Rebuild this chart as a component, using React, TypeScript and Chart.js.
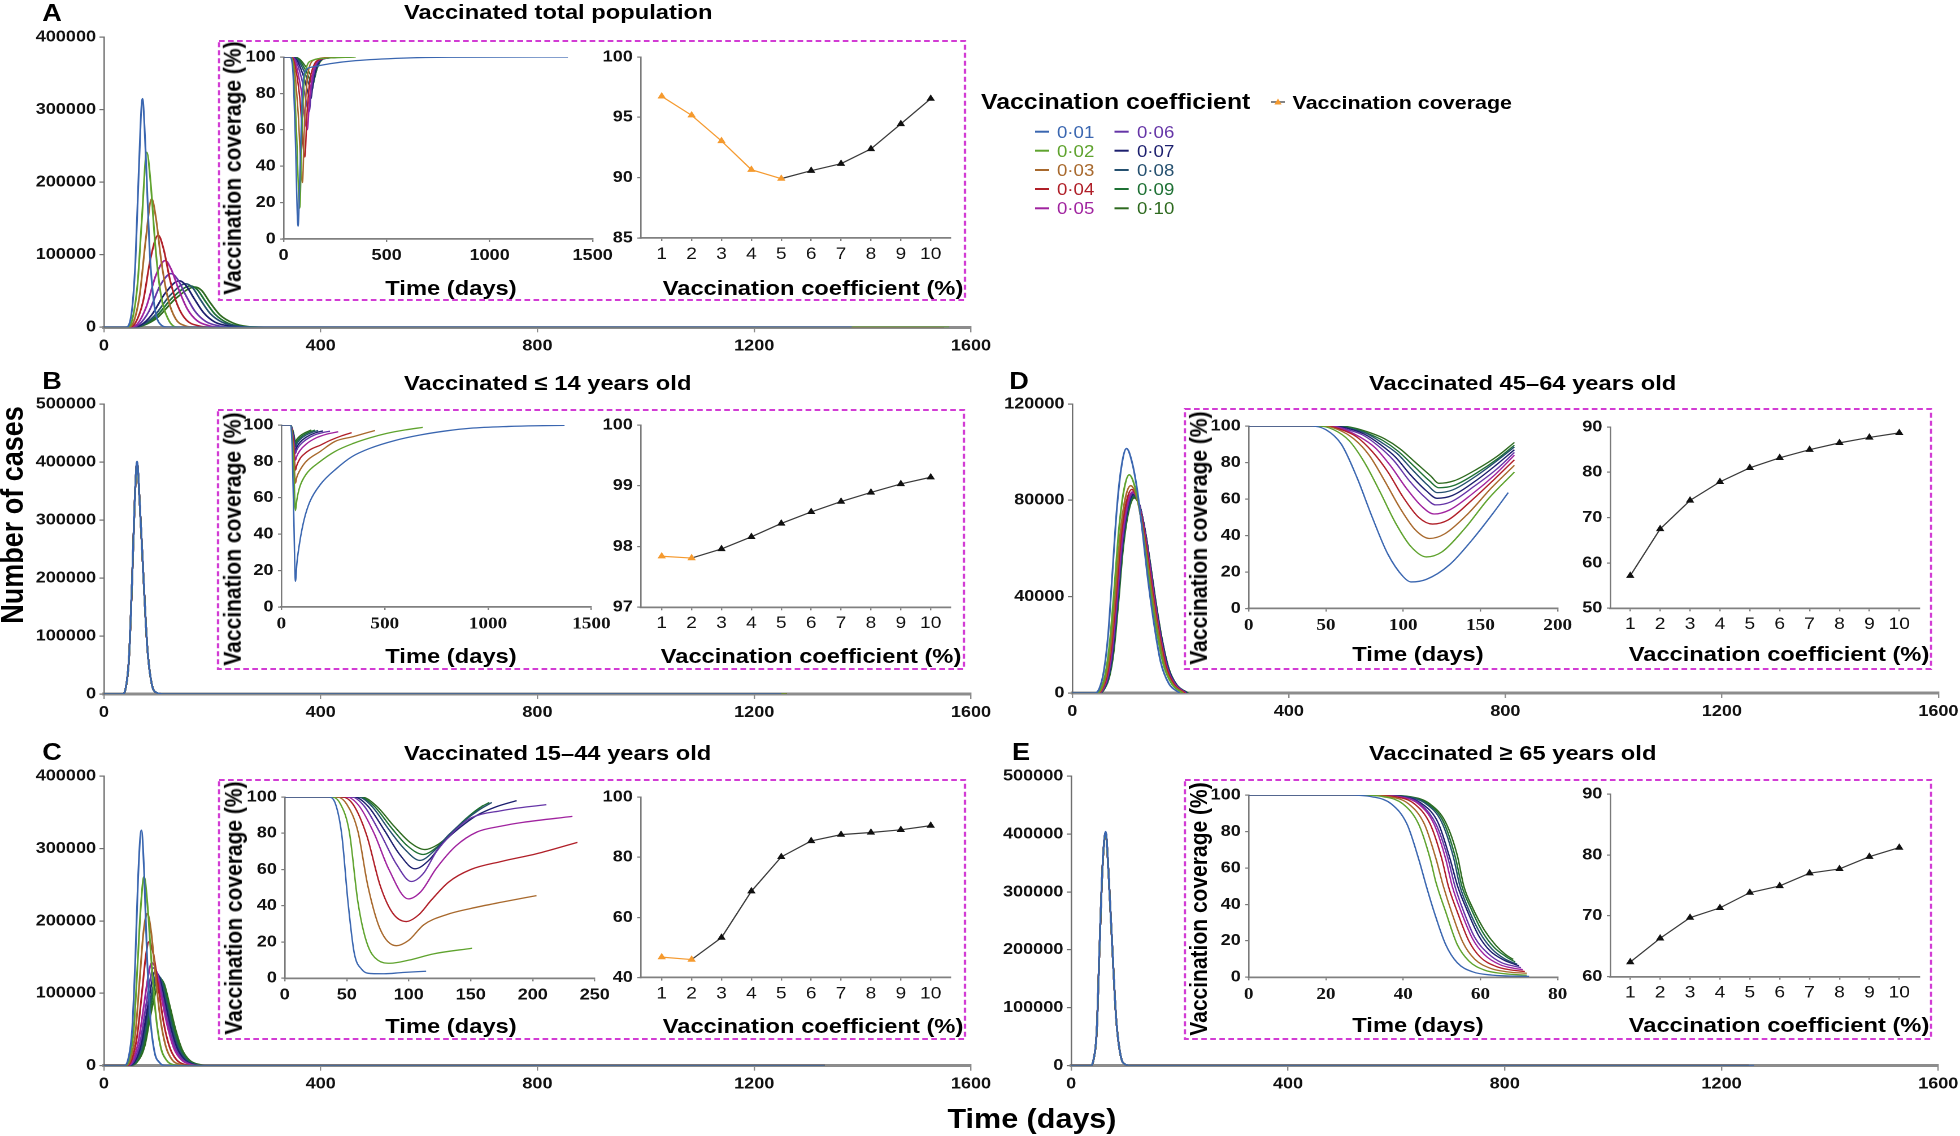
import React, { useEffect, useRef } from 'react';
import { Chart, registerables } from 'chart.js';

Chart.register(...registerables);

const S = 1.13;
const W = 1960;
const H = 1136;
const SANS = "'Liberation Sans', Arial, Helvetica, sans-serif";
const SERIF = "'Liberation Serif', 'Times New Roman', Times, serif";

type Pt = [number, number];

// ---------- legend / series identity ----------
const coefLabels = ['0·01', '0·02', '0·03', '0·04', '0·05', '0·06', '0·07', '0·08', '0·09', '0·10'];
const curveColors = ['#3a66b0', '#5fa32e', '#a8692d', '#b01f28', '#a0239f', '#6535a7', '#1c1f6e', '#25506f', '#1e7134', '#2e6a1f'];
const ORANGE = '#f59a2f';
const BOX = '#d23cd4';

// ---------- tick values ----------
const dayTicksMain = [0, 400, 800, 1200, 1600];
const casesTicks400k = [0, 100000, 200000, 300000, 400000];
const casesTicks500k = [0, 100000, 200000, 300000, 400000, 500000];
const casesTicks120k = [0, 40000, 80000, 120000];
const pctTicks = [0, 20, 40, 60, 80, 100];
const dayTicks1500 = [0, 500, 1000, 1500];
const dayTicks250 = [0, 50, 100, 150, 200, 250];
const dayTicks200 = [0, 50, 100, 150, 200];
const dayTicks80 = [0, 20, 40, 60, 80];
const coefX = [1, 2, 3, 4, 5, 6, 7, 8, 9, 10];
const covTicksA = [85, 90, 95, 100];
const covTicksB = [97, 98, 99, 100];
const covTicksC = [40, 60, 80, 100];
const covTicksD = [50, 60, 70, 80, 90];
const covTicksE = [60, 70, 80, 90];

// ---------- vaccination coverage vs coefficient (insets, right) ----------
const coverageA = [96.74, 95.17, 93.04, 90.66, 89.92, 90.58, 91.16, 92.38, 94.45, 96.55];
const coverageB = [97.84, 97.81, 97.96, 98.16, 98.38, 98.57, 98.74, 98.89, 99.03, 99.14];
const coverageC = [46.8, 46.0, 53.3, 68.7, 80.1, 85.4, 87.5, 88.2, 89.1, 90.5];
const coverageD = [57.2, 67.5, 73.8, 77.9, 81.0, 83.2, 85.0, 86.5, 87.7, 88.7];
const coverageE = [62.4, 66.3, 69.7, 71.3, 73.8, 74.9, 77.0, 77.7, 79.7, 81.2];

// ---------- main panels: number of cases vs time (days) ----------
const casesA: Pt[][] = [
  [[0, 0], [40, 0], [50, 15000], [58, 90000], [64, 210000], [71, 315000], [77, 240000], [84, 110000], [92, 35000], [102, 6000], [120, 0], [1380, 0]],
  [[0, 0], [42, 0], [52, 10000], [62, 60000], [70, 150000], [79, 241000], [86, 200000], [95, 110000], [105, 45000], [118, 12000], [135, 0], [1560, 0]],
  [[0, 0], [45, 0], [55, 8000], [66, 45000], [77, 120000], [88, 177000], [96, 150000], [106, 90000], [118, 40000], [132, 12000], [150, 2000], [170, 0], [1550, 0]],
  [[0, 0], [46, 0], [58, 6000], [72, 35000], [86, 95000], [100, 127000], [110, 108000], [122, 65000], [136, 30000], [152, 10000], [175, 2000], [200, 0], [1550, 0]],
  [[0, 0], [48, 0], [62, 5000], [78, 28000], [96, 72000], [113, 92000], [124, 80000], [138, 52000], [154, 25000], [172, 9000], [195, 2000], [220, 0], [1550, 0]],
  [[0, 0], [50, 0], [65, 4000], [83, 22000], [104, 58000], [124, 74000], [136, 66000], [151, 44000], [168, 22000], [188, 8000], [212, 2000], [240, 0], [1550, 0]],
  [[0, 0], [52, 0], [68, 3000], [88, 17000], [114, 48000], [139, 64000], [151, 58000], [166, 40000], [184, 20000], [205, 7000], [230, 2000], [260, 0], [1550, 0]],
  [[0, 0], [54, 0], [70, 3000], [92, 15000], [122, 44000], [151, 60000], [163, 55000], [178, 38000], [196, 19000], [218, 7000], [244, 2000], [275, 0], [1550, 0]],
  [[0, 0], [55, 0], [72, 3000], [95, 14000], [128, 42000], [160, 57000], [172, 52000], [187, 36000], [205, 18000], [228, 6000], [255, 1000], [285, 0], [1550, 0]],
  [[0, 0], [56, 0], [74, 3000], [98, 13000], [133, 40000], [168, 55500], [180, 51000], [195, 35000], [214, 17000], [238, 6000], [265, 1000], [295, 0], [1550, 0]],
];

const casesB01: Pt[] = [[0, 0], [34, 0], [40, 10000], [46, 60000], [52, 200000], [57, 340000], [61, 401000], [66, 330000], [73, 200000], [80, 80000], [88, 18000], [98, 2000], [110, 0], [1250, 0]];
const casesBOther: Pt[] = [[0, 0], [34, 0], [40, 9500], [46, 59000], [52, 198000], [57, 338000], [61, 399000], [66, 329000], [73, 199000], [80, 80000], [88, 18000], [98, 2000], [110, 0], [1260, 0]];
const casesB: Pt[][] = [casesB01, casesBOther, casesBOther, casesBOther, casesBOther, casesBOther, casesBOther, casesBOther, casesBOther, casesBOther];

const casesC: Pt[][] = [
  [[0, 0], [37, 0], [45, 10000], [52, 50000], [58, 150000], [63, 260000], [69, 325000], [74, 270000], [79, 160000], [85, 70000], [93, 20000], [103, 4000], [115, 0], [1330, 0]],
  [[0, 0], [38, 0], [47, 10000], [55, 50000], [62, 140000], [68, 220000], [74, 261000], [80, 225000], [87, 150000], [95, 75000], [104, 28000], [115, 8000], [130, 1000], [145, 0], [1330, 0]],
  [[0, 0], [40, 0], [49, 9000], [58, 45000], [66, 120000], [73, 185000], [80, 210000], [87, 185000], [95, 125000], [104, 65000], [114, 27000], [126, 8000], [142, 1500], [160, 0], [1330, 0]],
  [[0, 0], [41, 0], [51, 8000], [61, 40000], [70, 100000], [77, 150000], [83, 171000], [91, 155000], [100, 110000], [110, 60000], [121, 26000], [134, 8000], [150, 1500], [170, 0], [1330, 0]],
  [[0, 0], [42, 0], [53, 7000], [64, 35000], [74, 85000], [82, 125000], [88, 142000], [96, 132000], [106, 95000], [117, 55000], [129, 24000], [143, 8000], [160, 1500], [180, 0], [1330, 0]],
  [[0, 0], [43, 0], [55, 6500], [67, 33000], [77, 80000], [85, 118000], [91, 135000], [99, 126000], [109, 92000], [120, 54000], [132, 24000], [146, 8000], [163, 1500], [185, 0], [1330, 0]],
  [[0, 0], [44, 0], [57, 6000], [69, 31000], [80, 78000], [88, 114000], [94, 130000], [102, 122000], [112, 90000], [123, 53000], [135, 24000], [149, 8000], [166, 1500], [190, 0], [1330, 0]],
  [[0, 0], [45, 0], [58, 5500], [71, 29000], [82, 75000], [91, 110000], [97, 126000], [105, 119000], [115, 88000], [126, 52000], [138, 23500], [152, 8000], [170, 1500], [195, 0], [1330, 0]],
  [[0, 0], [46, 0], [60, 5500], [73, 28000], [84, 72000], [93, 107000], [100, 123000], [108, 116000], [118, 86000], [129, 51000], [141, 23000], [155, 8000], [173, 1500], [200, 0], [1330, 0]],
  [[0, 0], [47, 0], [61, 5000], [75, 27000], [86, 70000], [96, 104000], [103, 120000], [111, 113000], [121, 84000], [132, 50000], [144, 22500], [158, 7500], [177, 1500], [205, 0], [1330, 0]],
];

const casesD: Pt[][] = [
  [[0, 0], [42, 0], [50, 2000], [58, 9000], [66, 24000], [74, 50000], [82, 76000], [90, 93000], [100, 101500], [110, 96000], [120, 84000], [130, 66000], [138, 50000], [150, 30000], [163, 13000], [178, 4000], [198, 0]],
  [[0, 0], [45, 0], [53, 2000], [61, 8000], [69, 21000], [78, 45000], [86, 68000], [95, 84000], [105, 90600], [115, 86000], [125, 75000], [135, 59000], [143, 45000], [155, 27000], [168, 12000], [183, 4000], [203, 0]],
  [[0, 0], [47, 0], [55, 2000], [63, 8000], [71, 20000], [80, 43000], [88, 65000], [97, 80000], [107.6, 86100], [118, 82000], [128, 71000], [138, 56000], [146, 43000], [158, 26000], [171, 11000], [186, 3500], [206, 0]],
  [[0, 0], [48, 0], [56, 2000], [64, 7500], [72, 19000], [81, 41000], [89, 63000], [99, 78500], [109.5, 84500], [120, 80500], [130, 70000], [140, 55000], [148, 42000], [160, 25000], [173, 11000], [188, 3500], [208, 0]],
  [[0, 0], [49, 0], [57, 2000], [65, 7000], [73, 18500], [82, 40000], [90.5, 62000], [100.5, 77500], [111, 83500], [121.5, 79500], [131.5, 69000], [141.5, 54500], [149.5, 41500], [161.5, 24500], [174.5, 10500], [189.5, 3500], [209, 0]],
  [[0, 0], [50, 0], [58, 2000], [66, 7000], [74, 18000], [83, 39500], [91.5, 61500], [101.5, 77000], [112, 83000], [122.5, 79000], [132.5, 68500], [142.5, 54000], [150.5, 41000], [162.5, 24000], [175.5, 10500], [190.5, 3500], [210, 0]],
  [[0, 0], [50, 0], [58.5, 2000], [66.5, 6800], [74.5, 17500], [83.5, 39000], [92, 61000], [102, 76500], [113, 82500], [123.5, 78500], [133.5, 68000], [143.5, 53500], [151.5, 40500], [163.5, 24000], [176.5, 10500], [191.5, 3500], [211, 0]],
  [[0, 0], [51, 0], [59, 2000], [67, 6600], [75, 17000], [84, 38500], [92.5, 60500], [102.5, 76000], [113.5, 82000], [124, 78000], [134, 67500], [144, 53000], [152, 40000], [164, 23500], [177, 10500], [192, 3500], [212, 0]],
  [[0, 0], [51, 0], [59.5, 2000], [67.5, 6500], [75.5, 16800], [84.5, 38000], [93, 60000], [103, 75500], [114, 81500], [124.5, 77500], [134.5, 67000], [144.5, 52500], [152.5, 39800], [164.5, 23300], [177.5, 10300], [192.5, 3400], [213, 0]],
  [[0, 0], [52, 0], [60, 2000], [68, 6400], [76, 16500], [85, 37500], [93.5, 59500], [103.5, 75000], [114.5, 81000], [125, 77000], [135, 66500], [145, 52000], [153, 39500], [165, 23000], [178, 10200], [193, 3300], [214, 0]],
];

const casesE01: Pt[] = [[0, 0], [35, 0], [41, 10000], [47, 60000], [52, 200000], [58, 350000], [63.5, 404000], [69, 330000], [76, 200000], [83, 80000], [91, 18000], [100, 2000], [112, 0], [1260, 0]];
const casesEOther: Pt[] = [[0, 0], [35, 0], [41, 9500], [47, 59000], [52, 198000], [58, 348000], [63.5, 402000], [69, 329000], [76, 199000], [83, 80000], [91, 18000], [100, 2000], [112, 0], [1250, 0]];
const casesE: Pt[][] = [casesE01, casesEOther, casesEOther, casesEOther, casesEOther, casesEOther, casesEOther, casesEOther, casesEOther, casesEOther];

// ---------- insets, left: vaccination coverage (%) vs time (days) ----------
const covTimeA: Pt[][] = [
  [[0, 100], [30, 100], [45, 92], [57, 55], [70, 7], [80, 40], [90, 78], [100, 91], [140, 94.5], [223, 96.3], [350, 98], [580, 99.4], [800, 99.9], [1380, 100]],
  [[0, 100], [32, 100], [48, 93], [62, 60], [78, 17], [88, 55], [98, 84], [110, 94], [140, 98.2], [200, 99.3], [350, 100]],
  [[0, 100], [35, 100], [52, 94], [70, 70], [91, 31], [101, 62], [112, 85], [126, 95], [160, 98.8], [250, 100]],
  [[0, 100], [38, 100], [56, 95], [78, 78], [103, 45], [113, 68], [126, 86], [145, 95], [180, 98.8], [270, 100]],
  [[0, 100], [40, 100], [60, 96], [85, 82], [115, 60], [125, 76], [138, 89], [155, 96], [190, 99], [290, 100]],
  [[0, 100], [42, 100], [64, 97], [92, 86], [124, 70], [134, 81], [147, 91], [165, 97], [200, 99.2], [300, 100]],
  [[0, 100], [44, 100], [68, 97.5], [98, 89], [132, 77], [142, 85], [155, 92.5], [172, 97.5], [210, 99.3], [310, 100]],
  [[0, 100], [46, 100], [72, 98], [104, 91], [138, 82], [148, 88], [161, 94], [178, 98], [215, 99.4], [320, 100]],
  [[0, 100], [48, 100], [75, 98.5], [108, 92.5], [143, 85], [153, 90], [166, 95], [183, 98.3], [220, 99.5], [330, 100]],
  [[0, 100], [50, 100], [78, 98.8], [112, 94], [148, 88], [158, 92], [171, 96], [188, 98.6], [225, 99.6], [340, 100]],
];

const covTimeB: Pt[][] = [
  [[0, 100], [45, 100], [52, 88], [60, 50], [68, 14.1], [75, 24], [89, 35.8], [110, 48], [137.5, 57.8], [190, 67.5], [267, 76.1], [340, 82.5], [429, 87.2], [550, 91.5], [671, 94.5], [800, 96.8], [914, 98.2], [1100, 99.2], [1238, 99.6], [1370, 99.8]],
  [[0, 100], [45, 100], [52, 93], [60, 76], [68, 53], [75, 59], [89, 66], [120, 73], [186, 79.8], [260, 85.5], [348, 89.9], [430, 93], [510, 95.4], [600, 97.3], [684, 98.7]],
  [[0, 100], [45, 100], [52, 95], [60, 84], [68, 68], [75, 71.5], [89, 75], [120, 80], [186, 85.3], [260, 91], [348, 93.6], [453, 97]],
  [[0, 100], [45, 100], [52, 96], [60, 88], [68, 75.2], [75, 78], [90, 81.5], [105, 83.5], [140, 86.5], [190, 89], [235, 91.5], [290, 94], [340, 95.8]],
  [[0, 100], [45, 100], [52, 96.5], [60, 90], [68, 80.7], [75, 83], [90, 86], [120, 89.5], [170, 93], [220, 95], [275, 96.3]],
  [[0, 100], [45, 100], [52, 97], [60, 92], [68, 84.4], [75, 86.5], [90, 89], [120, 92], [160, 94.5], [200, 95.8], [235, 96.6]],
  [[0, 100], [45, 100], [52, 97.5], [60, 93], [68, 86], [75, 88], [90, 90.5], [120, 93.3], [160, 95.5], [202, 96.8]],
  [[0, 100], [45, 100], [52, 98], [60, 94], [68, 88], [75, 89.8], [90, 92], [120, 94.5], [150, 96], [178, 97]],
  [[0, 100], [45, 100], [52, 98], [60, 94.5], [68, 89.4], [75, 91], [90, 93], [120, 95.3], [162, 97.2]],
  [[0, 100], [45, 100], [52, 98.3], [60, 95], [68, 90.8], [75, 92.2], [90, 94], [115, 95.8], [145, 97.3]],
];

const covTimeC: Pt[][] = [
  [[0, 100], [35, 100], [41, 96], [46, 79], [51, 42], [56, 14], [62, 5], [70, 2.6], [80, 2.5], [95, 3.2], [114, 3.9]],
  [[0, 100], [38, 100], [45, 96], [52, 81], [59, 42], [66, 20], [75, 10], [85, 8.3], [100, 10], [120, 13.5], [151, 16.6]],
  [[0, 100], [42, 100], [50, 96], [59, 81], [67, 51], [77, 27], [90, 18], [100, 21], [112, 29.5], [130, 35], [150, 38.5], [175, 42], [203, 45.6]],
  [[0, 100], [46, 100], [55, 96], [66, 79], [77, 51], [87, 36], [98, 31.3], [108, 35], [118, 43], [132, 53], [150, 60], [175, 64.5], [203, 68.7], [236, 75]],
  [[0, 100], [50, 100], [60, 95], [72, 80], [84, 60], [99.5, 43.8], [110, 48], [122, 60.4], [138, 73], [155, 80.7], [175, 84], [192, 86], [232, 89.3]],
  [[0, 100], [54, 100], [64, 95], [77, 80], [90, 63], [102, 53.4], [112, 58], [122, 69.6], [135, 80], [149, 88], [175, 92.5], [211, 95.8]],
  [[0, 100], [56, 100], [67, 95], [80, 82], [93, 68], [105, 60.4], [116, 65], [128, 75], [141, 83], [155, 89.9], [170, 94.5], [187, 98]],
  [[0, 100], [59, 100], [70, 95], [84, 82], [97, 71], [109, 65], [120, 70], [132, 79], [145, 87], [157, 93], [167, 97]],
  [[0, 100], [60, 100], [72, 95], [86, 83], [99, 73], [111.6, 68.3], [122, 72], [134, 80], [146, 88], [157, 94], [165, 97]],
  [[0, 100], [62, 100], [74, 95], [88, 84], [101, 75], [113, 71], [124, 74], [136, 81], [148, 89], [160, 95.4]],
];

const covTimeD: Pt[][] = [
  [[0, 100], [40, 100], [50, 98], [60, 90], [70, 72], [80, 50], [90, 30], [100, 17.5], [105, 14.6], [115, 16], [130, 24], [145, 38], [158, 52], [168, 63.5]],
  [[0, 100], [45, 100], [55, 98], [65, 92], [75, 80], [85, 64], [95, 47], [105, 34], [115, 28.3], [125, 31], [140, 44], [155, 60], [172, 74.8]],
  [[0, 100], [48, 100], [58, 98], [68, 93], [78, 84], [88, 70], [98, 55], [108, 43], [117, 38.4], [127, 41], [142, 52], [157, 66], [172, 78.5]],
  [[0, 100], [50, 100], [60, 98], [70, 94], [80, 86], [90, 75], [100, 61], [110, 50], [119, 46.3], [129, 48.5], [144, 59], [158, 70], [172, 81.5]],
  [[0, 100], [52, 100], [62, 98], [72, 94], [82, 88], [92, 78], [102, 66], [112, 56], [120, 51.8], [130, 54], [145, 63], [159, 73], [172, 84]],
  [[0, 100], [54, 100], [64, 98], [74, 95], [84, 89], [94, 81], [104, 70], [114, 61], [121, 56.8], [131, 58.5], [146, 67], [160, 76], [172, 85.5]],
  [[0, 100], [55, 100], [65, 98.5], [75, 95.5], [85, 90], [95, 83], [105, 73], [115, 64.5], [122, 60.4], [132, 62], [147, 70], [160, 78.5], [172, 87]],
  [[0, 100], [56, 100], [66, 98.5], [76, 96], [86, 91], [96, 85], [106, 76], [116, 67.5], [122, 63.5], [132, 65], [147, 72.5], [160, 80.5], [172, 88.5]],
  [[0, 100], [57, 100], [67, 99], [77, 96], [87, 92], [97, 86], [107, 78], [117, 70], [123, 66.2], [133, 67.5], [148, 74.5], [161, 82], [172, 89.5]],
  [[0, 100], [58, 100], [68, 99], [78, 96.5], [88, 93], [98, 87.5], [108, 80], [118, 72.5], [123, 68.6], [133, 70], [148, 76.5], [161, 83.5], [172, 91]],
];

const covTimeE: Pt[][] = [
  [[0, 100], [25, 100], [32, 99], [37, 95], [41, 84], [44, 65], [46, 50], [48, 36], [51, 18], [54, 8], [58, 3], [63, 1.2], [72.6, 0.5]],
  [[0, 100], [28, 100], [35, 99], [40, 95], [44, 84], [47, 65], [48.5, 52], [51, 36], [54, 18], [57, 9], [61, 4], [66, 2], [72, 1.2]],
  [[0, 100], [29, 100], [36.5, 99], [41.5, 95], [45.5, 84], [48.5, 65], [50.4, 50], [52.5, 36], [55.5, 19], [58.5, 10], [62.5, 5], [67, 3], [72, 2.2]],
  [[0, 100], [30, 100], [38, 99], [43, 95], [47, 84], [50, 65], [51.7, 50], [54, 36], [57, 20], [60, 11], [64, 6], [68, 4], [71.5, 3.2]],
  [[0, 100], [31, 100], [39, 99], [44, 95], [48, 84], [51, 65], [52.7, 50], [55, 36], [58, 21], [61, 12.5], [65, 7], [68.5, 5], [71, 4.2]],
  [[0, 100], [32, 100], [39.5, 99], [44.5, 95], [48.5, 84], [51.5, 66], [53.4, 50], [55.5, 37], [58.5, 22], [62, 13], [65.5, 8], [69, 6], [70.5, 5.3]],
  [[0, 100], [32, 100], [40, 99], [45, 95], [49, 85], [52, 66], [54.1, 50], [56.5, 37], [59.5, 23], [62.5, 14.5], [66, 9.5], [69, 7], [70, 6.3]],
  [[0, 100], [33, 100], [41, 99], [46, 95], [50, 85], [53, 66], [54.7, 50], [57, 37], [60, 24], [63, 15.5], [66, 10.5], [68.5, 8], [69.5, 7.3]],
  [[0, 100], [33, 100], [41.5, 99], [46.5, 95], [50.5, 85], [53.5, 66], [55.2, 50], [57.5, 38], [60.5, 25], [63.5, 16.5], [66.5, 11.5], [68.5, 9], [69, 8.4]],
  [[0, 100], [34, 100], [42, 99], [47, 95], [51, 85], [54, 67], [55.7, 50], [58, 38], [61, 26], [64, 17.5], [66.5, 12.5], [68.5, 9.8]],
];

// ---------- helpers ----------
const fMain = { family: SANS, size: 16, weight: 'bold' as const };
const fIn = { family: SANS, size: 16, weight: 'bold' as const };
const fInSerif = { family: SERIF, size: 17, weight: 'bold' as const };
const fCoef = { family: SANS, size: 17, weight: 'normal' as const };

type AxisCfg = { min: number; max: number; ticks: number[]; font: any; tickLen: number; pad: number; color: string; width: number };

const ax = (min: number, max: number, ticks: number[], font: any, tickLen: number, pad: number, color: string, width: number): AxisCfg =>
  ({ min, max, ticks, font, tickLen, pad, color, width });

function scaleOpts(c: AxisCfg, horizontal: boolean, boxSize: number) {
  return {
    type: 'linear',
    min: c.min,
    max: c.max,
    afterBuildTicks: (s: any) => {
      s.ticks = c.ticks.map((v) => ({ value: v }));
    },
    afterFit: (s: any) => {
      if (horizontal) s.height = boxSize;
      else s.width = boxSize;
      s.paddingLeft = 0;
      s.paddingRight = 0;
      s.paddingTop = 0;
      s.paddingBottom = 0;
    },
    border: { display: true, color: c.color, width: c.width },
    grid: { display: true, drawOnChartArea: false, drawTicks: true, tickLength: c.tickLen, color: c.color, lineWidth: 1.2 },
    ticks: {
      font: c.font,
      color: '#111',
      padding: c.pad,
      maxRotation: 0,
      minRotation: 0,
      autoSkip: false,
      callback: (v: any) => String(v),
    },
  };
}

const curveSets = (curves: Pt[][], width: number) =>
  curves.map((c, i) => ({
    label: coefLabels[i],
    data: c.map(([x, y]) => ({ x, y })),
    borderColor: curveColors[i],
    borderWidth: width,
    pointRadius: 0,
    fill: false,
    cubicInterpolationMode: 'monotone',
  }));

const coverageSet = (vals: number[], orangeUpTo: number) => [
  {
    label: 'Vaccination coverage',
    data: coefX.map((x, i) => ({ x, y: vals[i] })),
    borderColor: '#333',
    borderWidth: 1.2,
    segment: { borderColor: (ctx: any) => (ctx.p1DataIndex <= orangeUpTo ? ORANGE : '#3a3a3a') },
    pointStyle: 'triangle',
    pointRadius: 3.3,
    pointBackgroundColor: coefX.map((_, i) => (i <= orangeUpTo ? ORANGE : '#111')),
    pointBorderColor: coefX.map((_, i) => (i <= orangeUpTo ? ORANGE : '#111')),
    pointBorderWidth: 1,
  },
];

type PlotProps = { L: number; R: number; T: number; B: number; x: AxisCfg; y: AxisCfg; datasets: any[]; pad: [number, number, number, number] };

function Plot({ L, R, T, B, x, y, datasets, pad }: PlotProps) {
  const ref = useRef<HTMLCanvasElement>(null);
  const [pl, pr, pt, pb] = pad;
  const innerW = (R - L) / S;
  const innerH = B - T;
  const w = Math.ceil(innerW + pl + pr);
  const h = Math.ceil(innerH + pt + pb);
  const prEff = w - pl - innerW;
  const pbEff = h - pt - innerH;
  useEffect(() => {
    const chart = new Chart(ref.current as HTMLCanvasElement, {
      type: 'line',
      data: { datasets } as any,
      options: {
        animation: false,
        responsive: false,
        devicePixelRatio: 2,
        events: [],
        layout: { padding: { left: 0, right: prEff, top: pt, bottom: 0 } },
        plugins: { legend: { display: false }, tooltip: { enabled: false }, title: { display: false } },
        scales: { x: scaleOpts(x, true, pbEff), y: scaleOpts(y, false, pl) } as any,
      } as any,
    });
    return () => chart.destroy();
  }, []);
  return (
    <canvas
      ref={ref}
      width={w}
      height={h}
      style={{ position: 'absolute', left: L / S - pl, top: T - pt, width: w, height: h }}
    />
  );
}

type TxtProps = { x: number; y: number; text: string; size: number; weight?: number; family?: string; color?: string; rot?: boolean; left?: boolean };

function Txt({ x, y, text, size, weight = 700, family = SANS, color = '#000', rot = false, left = false }: TxtProps) {
  return (
    <div
      style={{
        position: 'absolute',
        left: x / S,
        top: y,
        fontFamily: family,
        fontSize: size,
        fontWeight: weight,
        color,
        whiteSpace: 'nowrap',
        lineHeight: 1,
        transform: `translate(${left ? '0' : '-50%'}, -50%)${rot ? ' rotate(-90deg)' : ''}`,
      }}
    >
      {text}
    </div>
  );
}

// axis styles
const mainX = () => ax(0, 1600, dayTicksMain, fMain, 5, 4, '#8c8c8c', 3);
const mainY = (max: number, ticks: number[]) => ax(0, max, ticks, fMain, 4, 3, '#6f6f6f', 1.3);
const inY = (min: number, max: number, ticks: number[]) => ax(min, max, ticks, fIn, 3, 4, '#7a7a7a', 1.3);
const inX = (max: number, ticks: number[], font: any) => ax(0, max, ticks, font, 3, 4, '#808080', 1.8);
const coefAxis = (min: number, max: number) => ax(min, max, coefX, fCoef, 3, 3, '#808080', 1.8);

const PADM: [number, number, number, number] = [75, 30, 14, 34];
const PADI: [number, number, number, number] = [44, 24, 12, 30];

function Box({ x1, y1, x2, y2 }: { x1: number; y1: number; x2: number; y2: number }) {
  return <rect x={x1 / S} y={y1} width={(x2 - x1) / S} height={y2 - y1} fill="none" stroke={BOX} strokeWidth={2} strokeDasharray="5 3" />;
}

function Panel(p: {
  letter: string; lx: number; ly: number; title: string; tx: number; ty: number;
  main: { L: number; R: number; T: number; B: number; ymax: number; yticks: number[]; curves: Pt[][] };
  box: [number, number, number, number];
  in1: { L: number; R: number; T: number; B: number; xmax: number; xticks: number[]; serif: boolean; curves: Pt[][] };
  in2: { L: number; R: number; T: number; B: number; xmin: number; xmax: number; ymin: number; ymax: number; yticks: number[]; vals: number[]; orange: number };
  vtx: number; vty: number; t1x: number; t2x: number; tty: number;
}) {
  const { main, in1, in2 } = p;
  return (
    <>
      <Plot L={main.L} R={main.R} T={main.T} B={main.B} x={mainX()} y={mainY(main.ymax, main.yticks)} datasets={curveSets(main.curves, 1.6)} pad={PADM} />
      <svg width={W / S} height={H} style={{ position: 'absolute', left: 0, top: 0, pointerEvents: 'none' }}>
        <Box x1={p.box[0]} y1={p.box[1]} x2={p.box[2]} y2={p.box[3]} />
      </svg>
      <Plot L={in1.L} R={in1.R} T={in1.T} B={in1.B} x={inX(in1.xmax, in1.xticks, in1.serif ? fInSerif : fIn)} y={inY(0, 100, pctTicks)} datasets={curveSets(in1.curves, 1.3)} pad={PADI} />
      <Plot L={in2.L} R={in2.R} T={in2.T} B={in2.B} x={coefAxis(in2.xmin, in2.xmax)} y={inY(in2.ymin, in2.ymax, in2.yticks)} datasets={coverageSet(in2.vals, in2.orange)} pad={PADI} />
      <Txt x={p.lx} y={p.ly} text={p.letter} size={24} />
      <Txt x={p.tx} y={p.ty} text={p.title} size={21} left />
      <Txt x={p.vtx} y={p.vty} text="Vaccination coverage (%)" size={21} rot />
      <Txt x={p.t1x} y={p.tty} text="Time (days)" size={21} />
      <Txt x={p.t2x} y={p.tty} text="Vaccination coefficient (%)" size={21} />
    </>
  );
}

const xminL = 1 - 21 / 29.889;
const xmaxL = 10 + 20 / 29.889;
const xminR = 1 - 20 / 29.889;
const xmaxR = 10 + 20 / 29.889;

export default function App() {
  const rows1 = [0, 1, 2, 3, 4];
  const rowY = [131.7, 150.7, 170, 189, 208.3];
  return (
    <div style={{ position: 'absolute', left: 0, top: 0, width: W / S, height: H, overflow: 'hidden', background: '#fff', transform: `scaleX(${S})`, transformOrigin: '0 0' }}>
      <Panel
        letter="A" lx={52} ly={13} title="Vaccinated total population" tx={404} ty={11}
        main={{ L: 104, R: 971, T: 36.7, B: 327, ymax: 400000, yticks: casesTicks400k, curves: casesA }}
        box={[219, 41, 965, 300]}
        in1={{ L: 284, R: 593, T: 57.3, B: 239.3, xmax: 1500, xticks: dayTicks1500, serif: false, curves: covTimeA }}
        in2={{ L: 641, R: 951, T: 57.3, B: 238.3, xmin: xminL, xmax: xmaxL, ymin: 85, ymax: 100, yticks: covTicksA, vals: coverageA, orange: 4 }}
        vtx={233} vty={168} t1x={451} t2x={813} tty={287}
      />
      <Panel
        letter="B" lx={52} ly={381} title="Vaccinated ≤ 14 years old" tx={404} ty={382}
        main={{ L: 104, R: 971, T: 404.3, B: 694.3, ymax: 500000, yticks: casesTicks500k, curves: casesB }}
        box={[218, 410, 964, 669]}
        in1={{ L: 281, R: 591, T: 425, B: 607, xmax: 1500, xticks: dayTicks1500, serif: true, curves: covTimeB }}
        in2={{ L: 641, R: 951, T: 425, B: 607.3, xmin: xminL, xmax: xmaxL, ymin: 97, ymax: 100, yticks: covTicksB, vals: coverageB, orange: 1 }}
        vtx={233} vty={539} t1x={451} t2x={811} tty={655}
      />
      <Panel
        letter="C" lx={52} ly={752} title="Vaccinated 15–44 years old" tx={404} ty={752}
        main={{ L: 104, R: 971, T: 776, B: 1065.7, ymax: 400000, yticks: casesTicks400k, curves: casesC }}
        box={[219, 780, 965, 1039]}
        in1={{ L: 285, R: 595, T: 796.7, B: 978, xmax: 250, xticks: dayTicks250, serif: false, curves: covTimeC }}
        in2={{ L: 641, R: 951, T: 796.7, B: 977.3, xmin: xminL, xmax: xmaxL, ymin: 40, ymax: 100, yticks: covTicksC, vals: coverageC, orange: 1 }}
        vtx={234} vty={908} t1x={451} t2x={813} tty={1025}
      />
      <Panel
        letter="D" lx={1019} ly={381} title="Vaccinated 45–64 years old" tx={1369} ty={382}
        main={{ L: 1072, R: 1938, T: 404.3, B: 693.3, ymax: 120000, yticks: casesTicks120k, curves: casesD }}
        box={[1185, 409, 1931, 669]}
        in1={{ L: 1249, R: 1558, T: 425.7, B: 608.3, xmax: 200, xticks: dayTicks200, serif: true, curves: covTimeD }}
        in2={{ L: 1610, R: 1919, T: 426.7, B: 608, xmin: xminR, xmax: xmaxR, ymin: 50, ymax: 90, yticks: covTicksD, vals: coverageD, orange: -1 }}
        vtx={1199} vty={538} t1x={1418} t2x={1779} tty={653}
      />
      <Panel
        letter="E" lx={1021} ly={752} title="Vaccinated ≥ 65 years old" tx={1369} ty={752}
        main={{ L: 1071, R: 1938, T: 776, B: 1065.7, ymax: 500000, yticks: casesTicks500k, curves: casesE }}
        box={[1185, 780, 1931, 1039]}
        in1={{ L: 1249, R: 1558, T: 795, B: 977.3, xmax: 80, xticks: dayTicks80, serif: true, curves: covTimeE }}
        in2={{ L: 1610, R: 1919, T: 794, B: 976.7, xmin: xminR, xmax: xmaxR, ymin: 60, ymax: 90, yticks: covTicksE, vals: coverageE, orange: -1 }}
        vtx={1199} vty={909} t1x={1418} t2x={1779} tty={1024}
      />

      {/* legend */}
      <Txt x={981} y={102} text="Vaccination coefficient" size={22} left />
      <svg width={W / S} height={H} style={{ position: 'absolute', left: 0, top: 0, pointerEvents: 'none' }}>
        <line x1={1271 / S} y1={102} x2={1285 / S} y2={102} stroke="#333" strokeWidth={1.2} />
        <polygon points={`${1278 / S - 3.2},${104.5} ${1278 / S + 3.2},${104.5} ${1278 / S},${98.5}`} fill={ORANGE} />
        {rows1.map((r) => (
          <g key={r}>
            <line x1={1035 / S} y1={rowY[r]} x2={1049 / S} y2={rowY[r]} stroke={curveColors[r]} strokeWidth={2} />
            <line x1={1114.5 / S} y1={rowY[r]} x2={1128.7 / S} y2={rowY[r]} stroke={curveColors[r + 5]} strokeWidth={2} />
          </g>
        ))}
      </svg>
      <Txt x={1292.5} y={102} text="Vaccination coverage" size={19} left />
      {rows1.map((r) => (
        <React.Fragment key={r}>
          <Txt x={1057} y={rowY[r]} text={coefLabels[r]} size={16.5} weight={400} color={curveColors[r]} left />
          <Txt x={1137} y={rowY[r]} text={coefLabels[r + 5]} size={16.5} weight={400} color={curveColors[r + 5]} left />
        </React.Fragment>
      ))}

      {/* global axis titles */}
      <Txt x={13} y={515} text="Number of cases" size={27} rot />
      <Txt x={1032} y={1119} text="Time (days)" size={27} />
    </div>
  );
}
